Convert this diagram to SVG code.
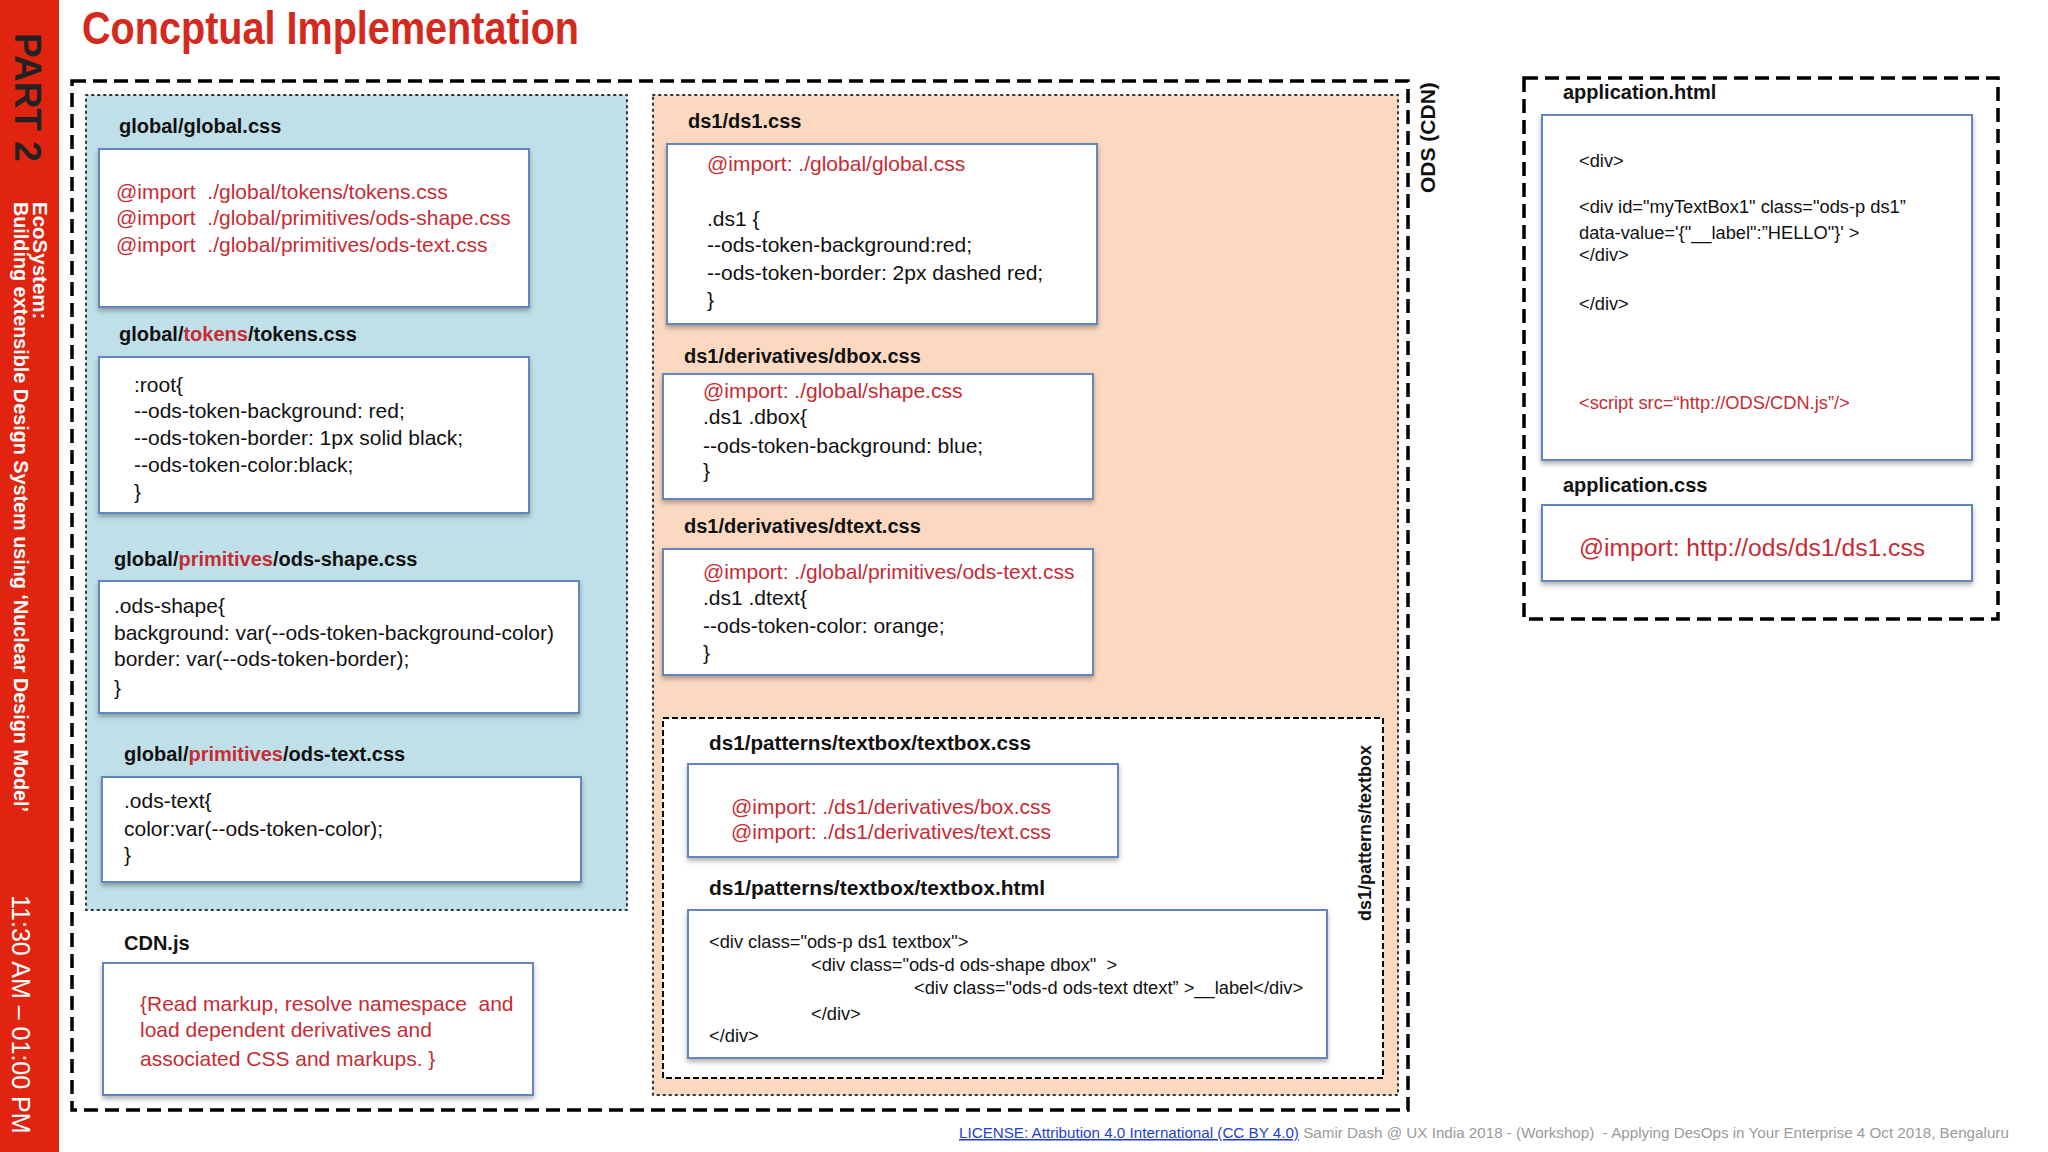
<svg xmlns="http://www.w3.org/2000/svg" width="2048" height="1152" viewBox="0 0 2048 1152">
<defs>
<filter id="sh" x="-5%" y="-5%" width="110%" height="125%"><feDropShadow dx="0" dy="3" stdDeviation="2.5" flood-color="#000" flood-opacity="0.3"/></filter>
<style>
text{font-family:"Liberation Sans",Arial,sans-serif;white-space:pre;}
.lbl{font-weight:bold;font-size:20px;fill:#111;}
.code{font-size:21px;fill:#111;}
.sm{font-size:18.3px;fill:#111;}
.red{fill:#c62c34;}
.box{fill:#fff;stroke:#6386bf;stroke-width:2;filter:url(#sh);}
.dot{stroke:#333;stroke-width:2;stroke-dasharray:1.5 4.5;stroke-linecap:round;}
.dash{fill:none;stroke:#000;stroke-width:3.5;stroke-dasharray:14 7;}
.dash2{fill:#fff;stroke:#000;stroke-width:2;stroke-dasharray:6 3;}
</style>
</defs>
<rect width="2048" height="1152" fill="#fff"/>
<g id="sidebar">
<rect x="0" y="0" width="59" height="1152" fill="#e1240f"/>
<text transform="translate(15,33) rotate(90)" font-size="37" font-weight="bold" fill="#222">PART 2</text>
<text transform="translate(33,202) rotate(90)" font-size="20.5" font-weight="bold" fill="#fff">EcoSystem:</text>
<text transform="translate(14,202) rotate(90)" font-size="19.8" font-weight="bold" fill="#fff">Building extensible Design System using ‘Nuclear Design Model’</text>
<text transform="translate(12,895) rotate(90)" font-size="25" fill="#fff">11:30 AM – 01:00 PM</text>
</g>
<text x="82" y="44" font-size="46" font-weight="bold" fill="#d42a1e" textLength="497" lengthAdjust="spacingAndGlyphs">Concptual Implementation</text>

<g id="ods-cdn">
<rect class="dash" x="72" y="81" width="1336" height="1029"/>
<text transform="translate(1435,193) rotate(-90)" font-size="21" font-weight="bold" fill="#111">ODS (CDN)</text>
</g>

<g id="global">
<rect class="dot" x="86" y="95" width="541" height="815" fill="#bfe0e8"/>
</g>
<g id="global-css">
<text class="lbl" x="119" y="133">global/global.css</text>
<rect class="box" x="99" y="149" width="430" height="158"/>
<text class="code red" x="116" y="199">@import  ./global/tokens/tokens.css</text>
<text class="code red" x="116" y="225">@import  ./global/primitives/ods-shape.css</text>
<text class="code red" x="116" y="252">@import  ./global/primitives/ods-text.css</text>
</g>
<g id="tokens-css">
<text class="lbl" x="119" y="341">global/<tspan class="red">tokens</tspan>/tokens.css</text>
<rect class="box" x="99" y="357" width="430" height="156"/>
<text class="code" x="134" y="392">:root{</text>
<text class="code" x="134" y="418">--ods-token-background: red;</text>
<text class="code" x="134" y="445">--ods-token-border: 1px solid black;</text>
<text class="code" x="134" y="472">--ods-token-color:black;</text>
<text class="code" x="134" y="499">}</text>
</g>
<g id="ods-shape-css">
<text class="lbl" x="114" y="566">global/<tspan class="red">primitives</tspan>/ods-shape.css</text>
<rect class="box" x="99" y="581" width="480" height="132"/>
<text class="code" x="114" y="613">.ods-shape{</text>
<text class="code" x="114" y="640">background: var(--ods-token-background-color)</text>
<text class="code" x="114" y="666">border: var(--ods-token-border);</text>
<text class="code" x="114" y="695">}</text>
</g>
<g id="ods-text-css">
<text class="lbl" x="124" y="761">global/<tspan class="red">primitives</tspan>/ods-text.css</text>
<rect class="box" x="102" y="777" width="479" height="105"/>
<text class="code" x="124" y="808">.ods-text{</text>
<text class="code" x="124" y="836">color:var(--ods-token-color);</text>
<text class="code" x="124" y="862">}</text>
</g>
<g id="cdn-js">
<text class="lbl" x="124" y="950">CDN.js</text>
<rect class="box" x="103" y="963" width="430" height="132"/>
<text class="code red" x="140" y="1011">{Read markup, resolve namespace  and</text>
<text class="code red" x="140" y="1037">load dependent derivatives and</text>
<text class="code red" x="140" y="1066">associated CSS and markups. }</text>
</g>

<g id="ds1">
<rect class="dot" x="653" y="95" width="745" height="1000" fill="#fbd9c1"/>
</g>
<g id="ds1-css">
<text class="lbl" x="688" y="128">ds1/ds1.css</text>
<rect class="box" x="667" y="144" width="430" height="180"/>
<text class="code red" x="707" y="171">@import: ./global/global.css</text>
<text class="code" x="707" y="226">.ds1 {</text>
<text class="code" x="707" y="252">--ods-token-background:red;</text>
<text class="code" x="707" y="280">--ods-token-border: 2px dashed red;</text>
<text class="code" x="707" y="307">}</text>
</g>
<g id="dbox-css">
<text class="lbl" x="684" y="363">ds1/derivatives/dbox.css</text>
<rect class="box" x="663" y="374" width="430" height="125"/>
<text class="code red" x="703" y="398">@import: ./global/shape.css</text>
<text class="code" x="703" y="424">.ds1 .dbox{</text>
<text class="code" x="703" y="453">--ods-token-background: blue;</text>
<text class="code" x="703" y="478">}</text>
</g>
<g id="dtext-css">
<text class="lbl" x="684" y="533">ds1/derivatives/dtext.css</text>
<rect class="box" x="663" y="549" width="430" height="126"/>
<text class="code red" x="703" y="579">@import: ./global/primitives/ods-text.css</text>
<text class="code" x="703" y="605">.ds1 .dtext{</text>
<text class="code" x="703" y="633">--ods-token-color: orange;</text>
<text class="code" x="703" y="660">}</text>
</g>
<g id="textbox">
<rect class="dash2" x="663" y="718" width="720" height="360"/>
<text transform="translate(1371,921) rotate(-90)" font-size="18" font-weight="bold" fill="#111">ds1/patterns/textbox</text>
</g>
<g id="textbox-css">
<text class="lbl" x="709" y="750" style="font-size:20.7px">ds1/patterns/textbox/textbox.css</text>
<rect class="box" x="688" y="764" width="430" height="93"/>
<text class="code red" x="731" y="814">@import: ./ds1/derivatives/box.css</text>
<text class="code red" x="731" y="839">@import: ./ds1/derivatives/text.css</text>
</g>
<g id="textbox-html">
<text class="lbl" x="709" y="895" style="font-size:21px">ds1/patterns/textbox/textbox.html</text>
<rect class="box" x="688" y="910" width="639" height="148"/>
<text class="sm" x="709" y="948">&lt;div class="ods-p ds1 textbox"&gt;</text>
<text class="sm" x="811" y="971">&lt;div class="ods-d ods-shape dbox"  &gt;</text>
<text class="sm" x="914" y="994">&lt;div class="ods-d ods-text dtext” &gt;__label&lt;/div&gt;</text>
<text class="sm" x="811" y="1020">&lt;/div&gt;</text>
<text class="sm" x="709" y="1042">&lt;/div&gt;</text>
</g>

<g id="application">
<rect class="dash" x="1524" y="78" width="474" height="541"/>
</g>
<g id="application-html">
<text class="lbl" x="1563" y="99">application.html</text>
<rect class="box" x="1542" y="115" width="430" height="345"/>
<text class="sm" x="1579" y="167">&lt;div&gt;</text>
<text class="sm" x="1579" y="213">&lt;div id="myTextBox1" class="ods-p ds1”</text>
<text class="sm" x="1579" y="239">data-value='{"__label":”HELLO"}' &gt;</text>
<text class="sm" x="1579" y="261">&lt;/div&gt;</text>
<text class="sm" x="1579" y="310">&lt;/div&gt;</text>
<text class="sm red" x="1579" y="409">&lt;script src=“http://ODS/CDN.js”/&gt;</text>
</g>
<g id="application-css">
<text class="lbl" x="1563" y="492">application.css</text>
<rect class="box" x="1542" y="505" width="430" height="76"/>
<text class="code red" x="1579" y="556" style="font-size:24.7px">@import: http://ods/ds1/ds1.css</text>
</g>

<g id="footer">
<text x="959" y="1138" font-size="15.2"><tspan fill="#1f3fd0" text-decoration="underline">LICENSE: Attribution 4.0 International (CC BY 4.0)</tspan><tspan fill="#9a9a9a"> Samir Dash @ UX India 2018 - (Workshop)  - Applying DesOps in Your Enterprise 4 Oct 2018, Bengaluru</tspan></text>
</g>
<g id="connectors"></g>
</svg>
